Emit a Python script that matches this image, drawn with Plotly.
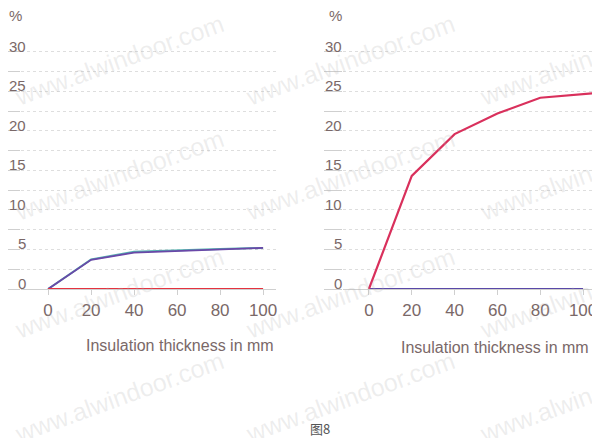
import plotly.graph_objects as go

# %% Data
thickness = [0, 20, 40, 60, 80, 100]

left_purple = [0, 3.7, 4.6, 4.8, 5.05, 5.2]
left_teal = [0, 3.75, 4.7, 4.9, 5.05, 5.2]
left_red = [0, 0, 0, 0, 0, 0]

right_red_x = [0, 20, 40, 60, 80, 106]
right_red = [0, 14.3, 19.6, 22.2, 24.2, 24.8]
right_blue = [0, 0, 0, 0, 0, 0]

grid_vals = [0, 2.5, 5, 7.5, 10, 12.5, 15, 17.5, 20, 22.5, 25, 27.5, 30]
label_vals = [0, 5, 10, 15, 20, 25, 30]
x_tickvals = [0, 20, 40, 60, 80, 100]

x_title = 'Insulation thickness in mm'
caption = '图8'
watermark = 'www.alwindoor.com'

TEXT = '#7a6868'
FONT = 'Liberation Sans, Arial, sans-serif'

# the page puts the figure 8px in from the window corner
W, H, OFF = 592, 430, 8


def px(x):
    return (x - OFF) / W


def py(y):
    return 1 - (y - OFF) / H


def grid_axis(domain_y, anchor):
    return dict(
        domain=domain_y, range=[0, 31], anchor=anchor, automargin=False,
        tickvals=grid_vals, showticklabels=False,
        ticks='outside', ticklen=18, tickcolor='#cfcfcf', tickwidth=1,
        showgrid=True, gridcolor='#dedede', griddash='dot', gridwidth=1,
        zeroline=False, showline=False, fixedrange=True,
    )


def x_axis(domain_x, rng, anchor):
    return dict(
        domain=domain_x, range=rng, anchor=anchor, automargin=False,
        tickvals=x_tickvals,
        ticks='outside', ticklen=5, tickcolor='#cfcfcf',
        tickfont=dict(family=FONT, size=17, color=TEXT),
        ticklabelstandoff=1,
        showgrid=False, zeroline=False,
        showline=True, linecolor='#cfcfcf', linewidth=1,
    )


def y_labels(yref, right_edge):
    # value labels sit just above their gridline, right-aligned at the plot edge
    return [
        dict(text=str(v), x=px(right_edge), y=v + 0.7, xref='paper', yref=yref,
             xanchor='right', yanchor='middle', showarrow=False,
             font=dict(family=FONT, size=15, color=TEXT))
        for v in label_vals
    ]


fig = go.Figure()

# left panel
fig.add_trace(go.Scatter(x=thickness, y=left_teal, mode='lines',
                         line=dict(color='#55b3b0', width=2),
                         xaxis='x', yaxis='y', cliponaxis=False))
fig.add_trace(go.Scatter(x=thickness, y=left_purple, mode='lines',
                         line=dict(color='#6a48a8', width=1.8),
                         xaxis='x', yaxis='y', cliponaxis=False))
fig.add_trace(go.Scatter(x=thickness, y=left_red, mode='lines',
                         line=dict(color='#e5333f', width=2.2),
                         xaxis='x', yaxis='y', cliponaxis=False))

# right panel
fig.add_trace(go.Scatter(x=thickness, y=right_blue, mode='lines',
                         line=dict(color='#5a48a8', width=2),
                         xaxis='x2', yaxis='y2', cliponaxis=False))
fig.add_trace(go.Scatter(x=right_red_x, y=right_red, mode='lines',
                         line=dict(color='#d9305c', width=2.2),
                         xaxis='x2', yaxis='y2', cliponaxis=False))

dom_y = [py(289), py(44)]

annotations = y_labels('y', 28) + y_labels('y2', 344) + [
    dict(text='%', x=px(24), y=py(15), xref='paper', yref='paper',
         xanchor='right', yanchor='middle', showarrow=False,
         font=dict(family=FONT, size=15, color=TEXT)),
    dict(text='%', x=px(344), y=py(15), xref='paper', yref='paper',
         xanchor='right', yanchor='middle', showarrow=False,
         font=dict(family=FONT, size=15, color=TEXT)),
    dict(text=x_title, x=px(276), y=py(345), xref='paper', yref='paper',
         xanchor='right', yanchor='middle', showarrow=False,
         font=dict(family=FONT, size=16, color=TEXT)),
    dict(text=x_title, x=px(591), y=py(347), xref='paper', yref='paper',
         xanchor='right', yanchor='middle', showarrow=False,
         font=dict(family=FONT, size=16, color=TEXT)),
    dict(text=caption, x=px(320), y=py(428), xref='paper', yref='paper',
         xanchor='center', yanchor='middle', showarrow=False,
         font=dict(family='Noto Sans CJK SC', size=13, color='#555555')),
]

# faint watermark grid
for cx in [119, 350, 584]:
    for cy in [60, 175, 293, 397]:
        annotations.append(dict(
            text=watermark, x=px(cx), y=py(cy), xref='paper', yref='paper',
            xanchor='center', yanchor='middle', showarrow=False, textangle=-20,
            font=dict(family='Liberation Sans, sans-serif', size=25,
                      color='rgba(175,175,175,0.22)'),
        ))

fig.update_layout(
    width=W,
    height=H,
    margin=dict(l=0, r=0, t=0, b=0),
    paper_bgcolor='white',
    plot_bgcolor='white',
    showlegend=False,
    xaxis=x_axis([px(21), px(276)], [-12.6, 106.0], 'y'),
    yaxis=grid_axis(dom_y, 'x'),
    xaxis2=x_axis([px(343), 1.0], [-12.1, 107.9], 'y2'),
    yaxis2=grid_axis(dom_y, 'x2'),
    annotations=annotations,
)

fig.write_html("out.html")
